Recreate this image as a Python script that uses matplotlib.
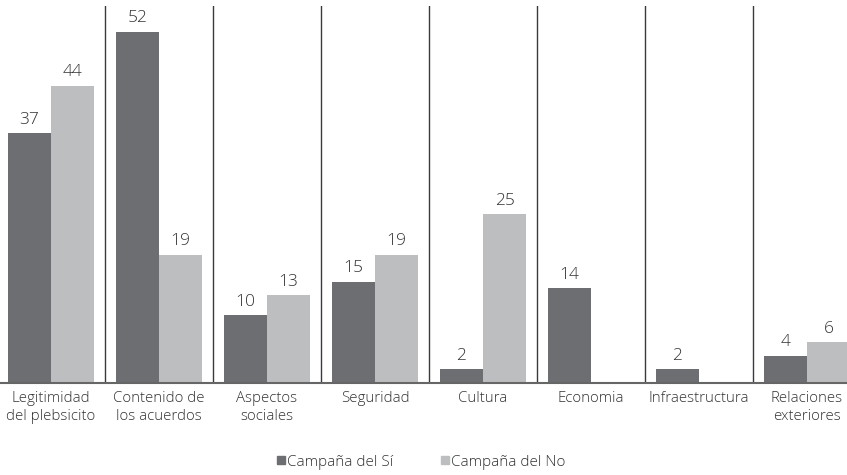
import numpy as np
import matplotlib.pyplot as plt
from matplotlib.lines import Line2D

plt.rcParams['font.family'] = ['Open Sans', 'DejaVu Sans']

categorias = ["Legitimidad\ndel plebsicito", "Contenido de\nlos acuerdos", "Aspectos\nsociales",
              "Seguridad", "Cultura", "Economia", "Infraestructura", "Relaciones\nexteriores"]
campana_si = [37, 52, 10, 15, 2, 14, 2, 4]
campana_no = [44, 19, 13, 19, 25, 0, 0, 6]
series = ["Campaña del Sí", "Campaña del No"]

color_si = "#6d6e71"
color_no = "#bcbec0"
texto = "#333333"

fig = plt.figure(figsize=(8.47, 4.75), dpi=100)
# ejes un poco mas anchos que la figura: la ultima categoria queda recortada
ax = fig.add_axes([-3 / 847, 1 - 383 / 475, 864 / 847, 377 / 475])

x = np.arange(len(categorias))
w = 0.4
b1 = ax.bar(x - w / 2, campana_si, w, color=color_si, zorder=2)
b2 = ax.bar(x + w / 2, campana_no, w, color=color_no, zorder=2)

for bars, vals in ((b1, campana_si), (b2, campana_no)):
    for rect, v in zip(bars, vals):
        if v == 0:
            continue
        ax.annotate(str(v), (rect.get_x() + rect.get_width() / 2, v),
                    xytext=(0, 4), textcoords="offset points",
                    ha="center", va="bottom", fontsize=12.5, color=texto,
                    fontweight="light")

for sep in x[:-1] + 0.5:
    ax.axvline(sep, color="#3a3a3a", lw=1, zorder=1)

ax.set_xlim(-0.5, len(categorias) - 0.5)
ax.set_ylim(0, 55.85)
ax.set_xticks(x)
ax.set_xticklabels(categorias, fontsize=10.8, color=texto, linespacing=1.22,
                   fontweight="light")
ax.tick_params(axis="x", length=0, pad=6)
ax.set_yticks([])
for s in ("top", "left", "right"):
    ax.spines[s].set_visible(False)
ax.spines["bottom"].set_color("#666666")
ax.spines["bottom"].set_linewidth(1.5)

handles = [Line2D([], [], ls="", marker="s", markersize=5.5, color=c) for c in (color_si, color_no)]
fig.legend(handles, series, loc="center", bbox_to_anchor=(0.497, 1 - 462 / 475), ncol=2,
           frameon=False, prop={"size": 11, "weight": "light"}, handlelength=0.6,
           handletextpad=0.1, columnspacing=3.1, labelcolor=texto)

fig.savefig("out.png", dpi=100)
